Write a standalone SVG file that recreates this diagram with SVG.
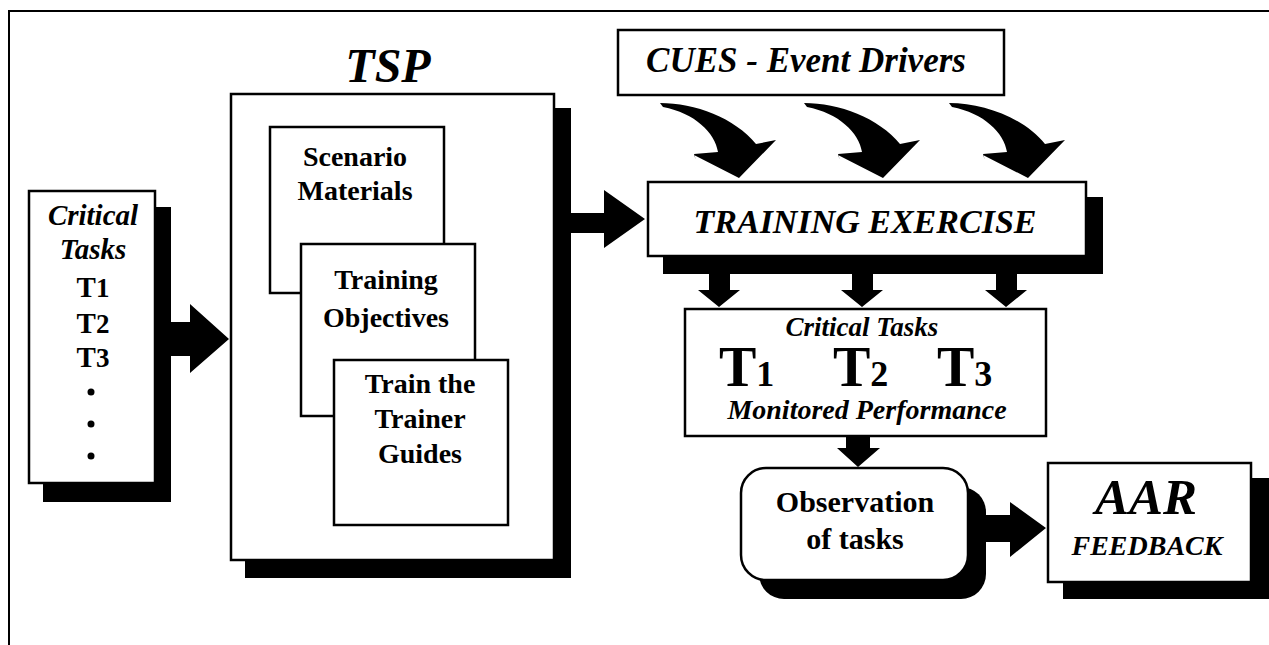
<svg xmlns="http://www.w3.org/2000/svg" width="1269" height="645" viewBox="0 0 1269 645">
<style>
.box{fill:#fff;stroke:#000;stroke-width:2.5}
.sh{fill:#000}
.arr{fill:#000}
text{font-family:"Liberation Serif","Times New Roman",serif;font-weight:bold;fill:#000}
.it{font-style:italic}
.c{text-anchor:middle}
</style>
<defs>
<path id="curve" d="M0,0 C35,0 75,15 96,41 L116,37 L79,75 L34,52 L36,57 L34,51 L58,49 C55,30 35,10 3,4 Z"/>
</defs>
<rect x="0" y="0" width="1269" height="645" fill="#fff"/>
<path d="M9,645 V11 H1269" fill="none" stroke="#000" stroke-width="2"/>

<g id="connectors">
<path class="arr" d="M171,322 H190 V304 L229,339 L190,373 V356 H171 Z"/>
<path class="arr" d="M571,213 H604 V190 L645,219 L604,248 V233 H571 Z"/>
<use href="#curve" x="660" y="103"/>
<use href="#curve" x="804" y="103"/>
<use href="#curve" x="949" y="103"/>
<path class="arr" d="M709,274 H730 V290 H740 L719,307 L698,290 H709 Z"/>
<path class="arr" d="M852,274 H873 V290 H883 L862,307 L841,290 H852 Z"/>
<path class="arr" d="M996,274 H1017 V290 H1027 L1006,307 L985,290 H996 Z"/>
<path class="arr" d="M846,436 H870 V448 H880 L858,467 L837,448 H846 Z"/>
<path class="arr" d="M986,515 H1010 V502 L1046,528 L1010,557 V542 H986 Z"/>
</g>

<g id="critical-tasks">
<rect class="sh" x="43" y="207" width="128" height="295"/>
<rect class="box" x="29" y="191" width="126" height="292"/>
<text class="it c" x="93" y="225" font-size="29">Critical</text>
<text class="it c" x="93" y="259" font-size="29">Tasks</text>
<text class="c" x="93" y="297" font-size="29">T<tspan font-size="27">1</tspan></text>
<text class="c" x="93" y="333" font-size="29">T<tspan font-size="27">2</tspan></text>
<text class="c" x="93" y="367" font-size="29">T<tspan font-size="27">3</tspan></text>
<circle cx="91" cy="392" r="3.5"/>
<circle cx="91" cy="424" r="3.5"/>
<circle cx="91" cy="456" r="3.5"/>
</g>

<g id="tsp">
<text class="it c" x="388" y="82" font-size="48">TSP</text>
<rect class="sh" x="245" y="108" width="326" height="470"/>
<rect class="box" x="231" y="94" width="323" height="466"/>
</g>

<g id="scenario">
<rect class="box" x="270" y="127" width="174" height="166"/>
<text class="c" x="355" y="166" font-size="28">Scenario</text>
<text class="c" x="355" y="200" font-size="28">Materials</text>
</g>

<g id="objectives">
<rect class="box" x="301" y="244" width="174" height="172"/>
<text class="c" x="386" y="289" font-size="28">Training</text>
<text class="c" x="386" y="327" font-size="28">Objectives</text>
</g>

<g id="trainer">
<rect class="box" x="334" y="360" width="174" height="165"/>
<text class="c" x="420" y="393" font-size="28">Train the</text>
<text class="c" x="420" y="428" font-size="28">Trainer</text>
<text class="c" x="420" y="463" font-size="28">Guides</text>
</g>

<g id="cues">
<rect class="box" x="618" y="30" width="386" height="65"/>
<text class="it c" x="806" y="72" font-size="35">CUES - Event Drivers</text>
</g>

<g id="training-exercise">
<rect class="sh" x="663" y="197" width="440" height="77"/>
<rect class="box" x="648" y="182" width="438" height="74"/>
<text class="it c" x="865" y="233" font-size="34">TRAINING EXERCISE</text>
</g>

<g id="monitored">
<rect class="box" x="685" y="309" width="361" height="127"/>
<text class="it c" x="862" y="336" font-size="27">Critical Tasks</text>
<text x="719" y="386" font-size="56">T<tspan font-size="36">1</tspan></text>
<text x="833" y="386" font-size="56">T<tspan font-size="36">2</tspan></text>
<text x="937" y="386" font-size="56">T<tspan font-size="36">3</tspan></text>
<text class="it c" x="867" y="419" font-size="28">Monitored Performance</text>
</g>

<g id="observation">
<rect class="sh" x="759" y="487" width="227" height="112" rx="25"/>
<rect class="box" x="741" y="468" width="227" height="112" rx="25"/>
<text class="c" x="855" y="512" font-size="30">Observation</text>
<text class="c" x="855" y="549" font-size="30">of tasks</text>
</g>

<g id="aar">
<rect class="sh" x="1063" y="478" width="215" height="121"/>
<rect class="box" x="1048" y="463" width="203" height="119"/>
<text class="it c" x="1146" y="514" font-size="51">AAR</text>
<text class="it c" x="1147" y="555" font-size="28">FEEDBACK</text>
</g>
</svg>
